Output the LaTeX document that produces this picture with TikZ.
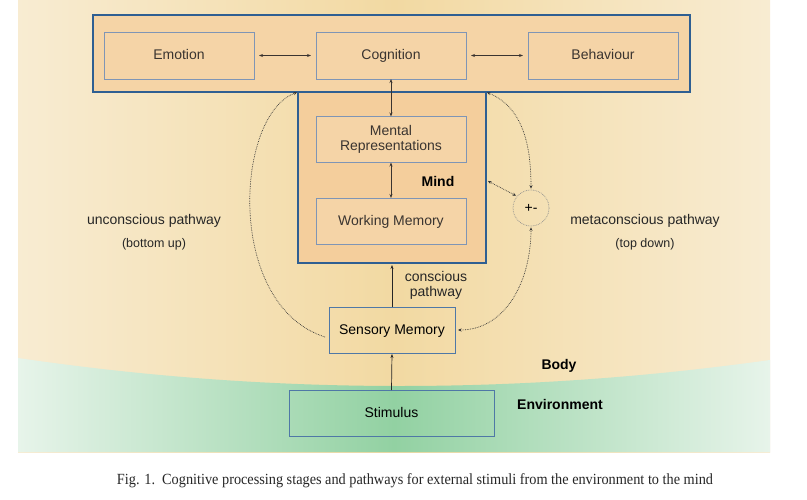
\documentclass[tikz,border=0pt]{standalone}
\usepackage{fontspec}
\setmainfont{Liberation Sans}
\newfontfamily\capfont{Liberation Serif}
\usetikzlibrary{arrows.meta,calc}
\definecolor{bgA}{HTML}{F8ECD2}
\definecolor{bgB}{HTML}{F2D9A2}
\definecolor{grA}{HTML}{E7F4EA}
\definecolor{grB}{HTML}{92D1A2}
\definecolor{frame}{HTML}{2F5F92}
\definecolor{inner}{HTML}{7F95B5}
\definecolor{lowframe}{HTML}{4F78A6}
\definecolor{peach}{HTML}{F5D4A7}
\definecolor{peachB}{HTML}{F4CE9C}
\definecolor{txt}{HTML}{3A3430}
\tikzset{
  bigbox/.style={draw=frame, line width=1.4pt, outer sep=0pt, inner sep=0pt},
  cbox/.style={draw=inner, line width=0.8pt, fill=peach, outer sep=0pt, inner sep=0pt, minimum width=150pt, minimum height=47pt, font=\fontsize{14}{16}\selectfont, text=txt, align=center},
  oneline/.style={text height=10pt, text depth=1pt},
  lowbox/.style={draw=lowframe, line width=0.9pt, outer sep=0pt, inner sep=0pt, minimum height=46pt, font=\fontsize{14}{16}\selectfont, text=black, text height=10pt, text depth=1pt},
  arr/.style={draw=txt, line width=0.7pt, {Stealth[length=4pt,width=3pt]}-{Stealth[length=4pt,width=3pt]}},
  uparr/.style={draw=black!85, line width=0.7pt, -{Stealth[length=4pt,width=3pt]}},
  dotarr/.style={draw=black!80, line width=0.7pt, densely dotted, {Stealth[length=3.5pt,width=3pt]}-{Stealth[length=3.5pt,width=3pt]}},
  lbl/.style={font=\fontsize{14}{16}\selectfont, text=black!85},
  sublbl/.style={font=\fontsize{12.5}{14}\selectfont, text=black!85},
  boldlbl/.style={font=\fontsize{14}{16}\selectfont\bfseries, text=black}
}
\begin{document}
\begin{tikzpicture}[x=1pt,y=-1pt]
\useasboundingbox (0,0) rectangle (807,500);
\fill[white] (0,0) rectangle (807,500);
% body background
\shade[left color=bgA, right color=bgA, middle color=bgB] (18,0) rectangle (770,452);
% environment
\shade[left color=grA, right color=grA, middle color=grB]
  (18,358) .. controls (270,395) and (520,395) .. (770,360) -- (770,452) -- (18,452) -- cycle;

% mind box
\node[bigbox, fill=peachB, minimum width=188pt, minimum height=171pt] (mind) at (392,177.5) {};
% top box
\node[bigbox, fill=peach!90!bgB, minimum width=597pt, minimum height=77pt] (top) at (391.5,53.5) {};

\node[cbox, oneline] (emo) at (179,55.5) {Emotion};
\node[cbox, oneline] (cog) at (391,55.5) {Cognition};
\node[cbox, oneline] (beh) at (603,55.5) {Behaviour};
\node[cbox, minimum height=46pt] (mr) at (391,139.5) {Mental\\[-1pt]Representations};
\node[cbox, oneline, minimum height=46pt] (wm) at (391,221) {Working Memory};
\node[boldlbl] (mindl) at (438,181) {Mind};

\node[lowbox, minimum width=126pt] (sens) at (392,330) {Sensory Memory};
\node[lowbox, minimum width=205pt] (stim) at (391.5,413) {Stimulus};

\node[draw=black!45, densely dotted, line width=0.7pt, circle, minimum size=36pt, inner sep=0pt, font=\fontsize{14}{16}\selectfont] (pm) at (531,208) {+-};

% solid arrows
\draw[arr, shorten <=5pt, shorten >=5pt] (emo.east) -- (cog.west);
\draw[arr, shorten <=5pt, shorten >=5pt] (cog.east) -- (beh.west);
\draw[arr] (cog.south) -- (mr.north);
\draw[arr] (mr.south) -- (wm.north);
\draw[uparr, shorten >=2pt] (sens.north) -- (mind.south);
\draw[uparr, shorten >=1pt] (stim.north) -- (sens.south);

% dotted pathways
\draw[dotarr, shorten <=1pt, shorten >=1pt] (mind.north east) .. controls (525,108) and (531,150) .. (pm.north);
\draw[dotarr, shorten <=1pt, shorten >=1pt] ($(mind.east)+(1,3)$) -- (pm.140);
\draw[dotarr, shorten <=1pt, shorten >=3pt] (pm.south) .. controls (531,282) and (505,330) .. (sens.east);
\draw[draw=black!80, line width=0.7pt, densely dotted, -{Stealth[length=3.5pt,width=3pt]}, shorten >=1pt]
  ($(sens.west)+(-4,7)$) .. controls (225,305) and (235,115) .. (mind.north west);

% labels
\node[lbl] (ul) at (154,221) {unconscious pathway};
\node[sublbl] (ubu) at (154,244) {(bottom up)};
\node[lbl] (ml) at (645,221) {metaconscious pathway};
\node[sublbl] (mtd) at (645,244) {(top down)};
\node[lbl, align=center] (cl) at (436,285.5) {conscious\\[-1pt]pathway};
\node[boldlbl] (body) at (559,366) {Body};
\node[boldlbl] (env) at (560,404) {Environment};

\node[inner sep=0pt, text=black!85] (cap) at (415,481) {\resizebox{596pt}{\height}{\capfont\fontsize{15.5}{17}\selectfont Fig. 1.\ \ Cognitive processing stages and pathways for external stimuli from the environment to the mind}};
\end{tikzpicture}
\end{document}
